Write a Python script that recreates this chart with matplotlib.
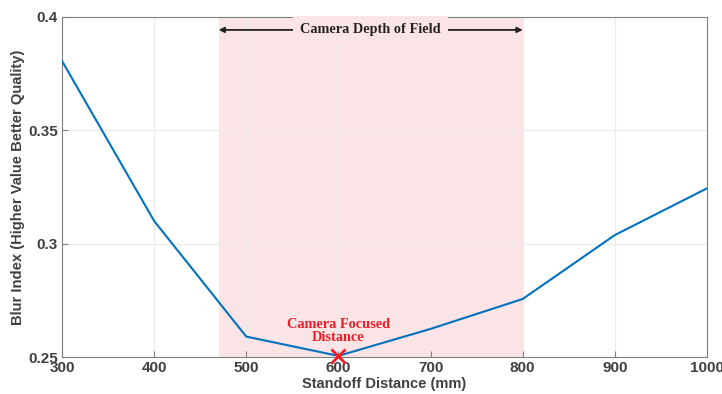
import matplotlib
matplotlib.use('Agg')
import matplotlib.pyplot as plt

plt.rcParams['font.family'] = ['Liberation Sans', 'DejaVu Sans']

# Blur index measured at each standoff distance
distance_mm = [300, 400, 500, 600, 700, 800, 900, 1000]
blur_index = [0.3806, 0.310, 0.259, 0.2505, 0.2624, 0.2756, 0.3038, 0.3244]
dof_range = [470, 800]
focus_distance = 600
focus_value = 0.2505

shade = '#fbe4e5'
gray = '#404040'

fig = plt.figure(figsize=(7.22, 3.94), dpi=100)
ax = fig.add_axes([0.0859, 0.0939, 0.8933, 0.8630])

ax.axvspan(dof_range[0], dof_range[1], color=shade, zorder=0, lw=0)
ax.plot(distance_mm, blur_index, color='#0072BD', lw=1.5, zorder=3)
ax.plot(focus_distance, focus_value, marker='x', color='#ee1c25', ms=10, mew=2,
        zorder=4, clip_on=False)

ax.text(focus_distance, 0.2615, 'Camera Focused\nDistance', ha='center', va='center',
        color='#ee1c25', fontsize=10.3, fontweight='bold', family='Liberation Serif',
        linespacing=1.0)

# depth of field arrow
arr_y = 0.3943
ax.annotate('', xy=(dof_range[0], arr_y), xytext=(635, arr_y),
            arrowprops=dict(arrowstyle='-|>', color='#222222', lw=1.3, mutation_scale=8,
                            shrinkA=0, shrinkB=0))
ax.annotate('', xy=(dof_range[1], arr_y), xytext=(635, arr_y),
            arrowprops=dict(arrowstyle='-|>', color='#222222', lw=1.3, mutation_scale=8,
                            shrinkA=0, shrinkB=0))
ax.text(635, arr_y, 'Camera Depth of Field', ha='center', va='center', color='#222222',
        fontsize=10.3, fontweight='bold', family='Liberation Serif', zorder=5,
        bbox=dict(facecolor=shade, edgecolor='none', pad=5))

ax.set_xlim(300, 1000)
ax.set_ylim(0.25, 0.4)
ax.set_xticks([300, 400, 500, 600, 700, 800, 900, 1000])
ax.set_yticks([0.25, 0.3, 0.35, 0.4])
ax.set_yticklabels(['0.25', '0.3', '0.35', '0.4'])
ax.grid(True, color='#ececec', lw=0.8, zorder=1)
ax.set_axisbelow(True)

for sp in ax.spines.values():
    sp.set_color('#7f7f7f')
    sp.set_linewidth(0.8)
ax.tick_params(direction='in', length=4, color='#7f7f7f', labelcolor=gray,
               labelsize=11, pad=3)
for lbl in ax.get_xticklabels() + ax.get_yticklabels():
    lbl.set_fontweight('bold')

ax.set_xlabel('Standoff Distance (mm)', fontsize=10.5, fontweight='bold', color=gray, labelpad=1)
ax.set_ylabel('Blur Index (Higher Value Better Quality)', fontsize=10.6, fontweight='bold',
              color=gray, labelpad=2)

fig.savefig('out.png', dpi=100)
